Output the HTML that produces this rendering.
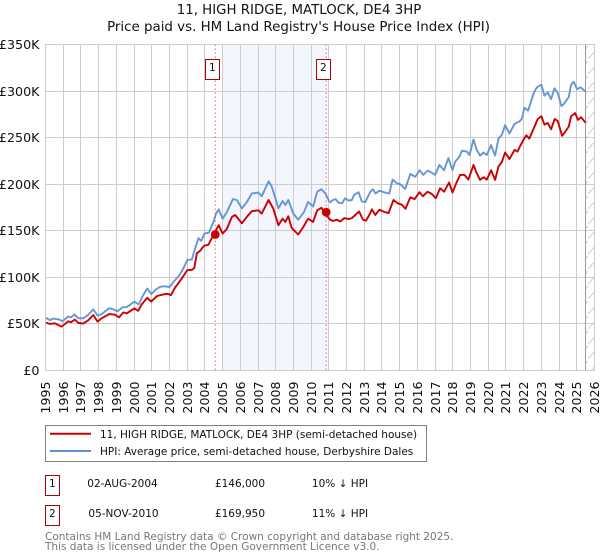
<!DOCTYPE html>
<html>
<head>
<meta charset="utf-8">
<style>
html,body{margin:0;padding:0;background:#fff;width:600px;height:560px;overflow:hidden}
svg{display:block}
text{font-family:"DejaVu Sans","Liberation Sans",sans-serif;fill:#111}
</style>
</head>
<body>
<svg id="chart" width="600" height="560" viewBox="0 0 600 560" xmlns="http://www.w3.org/2000/svg">
  <defs>
    <pattern id="hatch" width="12" height="15" patternUnits="userSpaceOnUse">
      <line x1="-1" y1="15" x2="12" y2="1" stroke="#ccc" stroke-width="1"/>
    </pattern>
  </defs>
  <text x="299" y="14" text-anchor="middle" font-size="13.35">11, HIGH RIDGE, MATLOCK, DE4 3HP</text>
  <text x="298.5" y="31" text-anchor="middle" font-size="13.4">Price paid vs. HM Land Registry's House Price Index (HPI)</text>
  <g id="plot"></g>

  <g>
    <rect x="45.5" y="425.5" width="381" height="36" fill="#fff" stroke="#808080" stroke-width="1"/>
    <line x1="50" x2="91" y1="433.7" y2="433.7" stroke="#cc0000" stroke-width="2"/>
    <text x="100" y="438" font-size="10.5">11, HIGH RIDGE, MATLOCK, DE4 3HP (semi-detached house)</text>
    <line x1="50" x2="91" y1="451" y2="451" stroke="#5f8fd3" stroke-width="2"/>
    <text x="100" y="455" font-size="10.5">HPI: Average price, semi-detached house, Derbyshire Dales</text>
  </g>

  <g>
    <rect x="45.5" y="475.5" width="14" height="20" fill="#fff" stroke="#b00000" stroke-width="1"/>
    <text x="52.3" y="487" text-anchor="middle" font-size="10.5">1</text>
    <text x="122.5" y="487" text-anchor="middle" font-size="10.5">02-AUG-2004</text>
    <text x="240" y="487" text-anchor="middle" font-size="10.5">£146,000</text>
    <text x="340" y="487" text-anchor="middle" font-size="10.5">10% ↓ HPI</text>
  </g>
  <g>
    <rect x="45.5" y="505.5" width="14" height="20" fill="#fff" stroke="#b00000" stroke-width="1"/>
    <text x="52.3" y="517" text-anchor="middle" font-size="10.5">2</text>
    <text x="123.5" y="517" text-anchor="middle" font-size="10.5">05-NOV-2010</text>
    <text x="240" y="517" text-anchor="middle" font-size="10.5">£169,950</text>
    <text x="340" y="517" text-anchor="middle" font-size="10.5">11% ↓ HPI</text>
  </g>

  <text x="45" y="540" font-size="10.5" style="fill:#777">Contains HM Land Registry data © Crown copyright and database right 2025.</text>
  <text x="45" y="550" font-size="10.5" style="fill:#777">This data is licensed under the Open Government Licence v3.0.</text>
</svg>
<script>
var yearTicks = [1995,1996,1997,1998,1999,2000,2001,2002,2003,2004,2005,2006,2007,2008,2009,2010,2011,2012,2013,2014,2015,2016,2017,2018,2019,2020,2021,2022,2023,2024,2025,2026];
var valueTicks = [0,50,100,150,200,250,300,350];
var valueTickLabels = ['£0','£50K','£100K','£150K','£200K','£250K','£300K','£350K'];

var hpiDates = [1995,1995.25,1995.43,1995.72,1995.96,1996.28,1996.43,1996.64,1996.85,1997.13,1997.42,1997.7,1997.94,1998.17,1998.6,1998.92,1999.06,1999.36,1999.58,2000.02,2000.26,2000.49,2000.74,2000.98,2001.23,2001.49,2001.75,2002,2002.26,2002.51,2002.75,2003.02,2003.26,2003.45,2003.64,2003.79,2003.98,2004.23,2004.49,2004.63,2004.78,2005,2005.24,2005.58,2005.8,2006.09,2006.37,2006.65,2007.02,2007.21,2007.6,2007.77,2007.98,2008.15,2008.39,2008.54,2008.71,2008.99,2009.27,2009.59,2009.83,2010.11,2010.34,2010.58,2010.81,2011.01,2011.08,2011.23,2011.38,2011.55,2011.75,2011.92,2012.11,2012.3,2012.43,2012.68,2012.86,2013.05,2013.34,2013.49,2013.64,2013.86,2014.18,2014.41,2014.6,2014.84,2015.03,2015.31,2015.6,2015.88,2016.12,2016.34,2016.57,2016.81,2017,2017.24,2017.51,2017.75,2017.98,2018.13,2018.37,2018.51,2018.79,2018.94,2019.17,2019.35,2019.54,2019.73,2019.92,2020.16,2020.39,2020.58,2020.77,2020.95,2021.2,2021.48,2021.8,2021.91,2022.04,2022.25,2022.57,2022.75,2023,2023.17,2023.36,2023.55,2023.74,2023.92,2024.13,2024.26,2024.55,2024.68,2024.83,2025.02,2025.21,2025.49];
var hpiValues = [57,54,55.7,55,53,58,57,60,56,56,60,65.6,59,60.6,67,65,63.5,68,68,74,71,80,88,82,87,90,90.4,89.7,96,101,108.5,119,119,131,142,139,147,148,160,168.5,173,163,170,184,183,174,181,190,191,187,203,197.5,185,174,182,177.6,183,168.5,162,170,181,176,192,194.6,190,182,180.7,183,184,180,179.6,185,182.5,183,188.6,191.4,181.4,180.7,192,194.6,190,193,191,190,205,201,200,195,211,208,215,210,214.6,212.5,210,220.7,215,228,215,224,229.6,236,235,231.4,248,236.8,230.7,234,231.4,242,230.7,249,253,263.5,254.6,264.6,268,271,282,279,298,304,306.8,295,298.6,291.4,303,298,284,286,293.6,306.8,310,302,304,299.6];

var priceDates = [1995,1995.25,1995.53,1995.91,1996.28,1996.43,1996.66,1996.85,1997.13,1997.42,1997.7,1997.94,1998.17,1998.6,1998.92,1999.15,1999.4,1999.58,2000.02,2000.23,2000.43,2000.74,2000.97,2001.3,2001.75,2001.94,2002.08,2002.32,2002.7,2003.02,2003.26,2003.4,2003.55,2003.7,2003.96,2004.2,2004.49,2004.78,2005,2005.24,2005.53,2005.71,2006.09,2006.37,2006.65,2007.02,2007.21,2007.6,2007.86,2008.15,2008.39,2008.54,2008.71,2008.9,2009.27,2009.55,2009.83,2010.11,2010.34,2010.58,2010.81,2011.06,2011.24,2011.45,2011.64,2011.87,2012.11,2012.3,2012.49,2012.71,2012.92,2013.09,2013.34,2013.43,2013.62,2013.84,2014.18,2014.37,2014.65,2014.88,2015.12,2015.33,2015.6,2015.84,2016.12,2016.31,2016.57,2016.81,2017.04,2017.28,2017.51,2017.79,2017.98,2018.19,2018.41,2018.66,2018.88,2019.17,2019.35,2019.54,2019.73,2019.92,2020.16,2020.39,2020.58,2020.77,2020.95,2021.2,2021.48,2021.65,2021.8,2022,2022.15,2022.32,2022.57,2022.79,2023,2023.17,2023.36,2023.55,2023.75,2023.92,2024.17,2024.3,2024.55,2024.68,2024.91,2025.06,2025.25,2025.49];
var priceValues = [51.4,50,50.7,47,52.8,51.8,54.6,51,50.4,54,59.6,52.5,56,60.6,60,57,62.4,61.3,66.7,64,71,78,74,80,82,82,81,89,99,108,108,110,126,128,134,135,146,156,147,152,165,167,158,165,171,172,168.5,183,174,156,163,159.5,165.6,153,146,154,163,159.5,172,174.7,168.5,162,160.5,162,160,163.6,162.5,163.6,167,170.7,162,160.7,169,173,167,172.5,170,169,183,179.6,178,173.6,186,184,191.4,187,192,189.6,185,195.7,192,201.8,191,201,210,210,205,220.7,211.8,204.6,207.5,205,215,204.6,219,224,234,227,236.8,235,241,248,252.5,249,260,270,273,264,265.7,259,270,268,252,255,262,273,276.4,269,272,266];

var saleDates = [2004.585,2010.85];
var saleValues = [146,169.95];
var saleLabels = ['1','2'];
var shadeStart = 2005;
var dataEnd = 2025.47;

var NS = 'http://www.w3.org/2000/svg';
var plot = document.getElementById('plot');
var PL = 45.5, PR = 594.5, PT = 44.5, PB = 370.5;
function xs(y){ return PL + (y - 1995) * (PR - PL) / 31; }
function ys(v){ return PB - v * (PB - PT) / 350; }
function snap(p){ return Math.floor(p) + 0.5; }
function mk(tag, attrs){
  var el = document.createElementNS(NS, tag);
  for (var k in attrs) el.setAttribute(k, attrs[k]);
  plot.appendChild(el);
  return el;
}

var shade = mk('rect', {x: xs(shadeStart), y: PT, width: xs(saleDates[1]) - xs(shadeStart), height: PB - PT, fill: '#f3f6fd'});



var hatch = mk('rect', {x: xs(dataEnd), y: PT, width: PR - xs(dataEnd), height: PB - PT, fill: 'url(#hatch)'});



yearTicks.forEach(function(yr){
  var gx = snap(xs(yr));
  var line = mk('line', {x1: gx, x2: gx, y1: PT, y2: PB, stroke: '#ccc', 'stroke-width': 1});
  
  
  var t = mk('text', {transform: 'translate(' + (gx + 4.5) + ',381.5) rotate(-90)', 'text-anchor': 'end', 'font-size': 12.6});
  
  
  t.textContent = yr;
});
valueTicks.forEach(function(v, i){
  var gy = snap(ys(v));
  var line = mk('line', {x1: PL, x2: PR, y1: gy, y2: gy, stroke: '#ccc', 'stroke-width': 1});
  
  
  var t = mk('text', {x: 39.5, y: gy + 4.3, 'text-anchor': 'end', 'font-size': 12.7});
  
  
  t.textContent = valueTickLabels[i];
});

var endLine = mk('line', {x1: snap(xs(dataEnd)), x2: snap(xs(dataEnd)), y1: PT, y2: PB, stroke: '#999', 'stroke-width': 1});



function pts(dates, values){
  return dates.map(function(d, i){ return xs(d).toFixed(1) + ',' + ys(values[i]).toFixed(1); }).join(' ');
}

var hpiLine = mk('polyline', {points: pts(hpiDates, hpiValues), fill: 'none', stroke: '#5f8fd3', 'stroke-width': 1.9, 'stroke-linejoin': 'round', opacity: 0.95});



var priceLine = mk('polyline', {points: pts(priceDates, priceValues), fill: 'none', stroke: '#cc0000', 'stroke-width': 1.9, 'stroke-linejoin': 'round'});



saleDates.forEach(function(d, i){
  var sx = xs(d);
  var v = mk('line', {x1: sx, x2: sx, y1: PT, y2: PB, stroke: '#e0606f', 'stroke-width': 1, 'stroke-dasharray': '1.5 2.5'});
  
  
  var c = mk('circle', {cx: sx, cy: ys(saleValues[i]), r: 4.4, fill: '#cc0000'});
  
  
  var b = mk('rect', {x: Math.floor(sx) - 9.5, y: 59.5, width: 14, height: 20, fill: '#fff', stroke: '#b00000', 'stroke-width': 1});
  
  
  var t = mk('text', {x: Math.floor(sx) - 2.7, y: 71, 'text-anchor': 'middle', 'font-size': 10.5});
  
  
  t.textContent = saleLabels[i];
});

var frame = mk('rect', {x: PL, y: PT, width: PR - PL, height: PB - PT, fill: 'none', stroke: '#ccc', 'stroke-width': 1});


</script>
</body>
</html>
